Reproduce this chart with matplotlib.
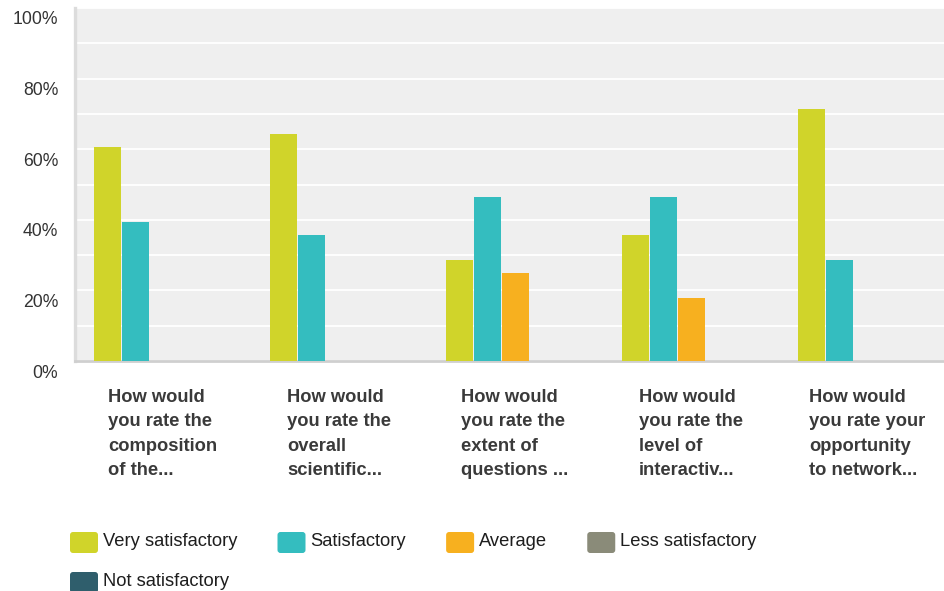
#
# plot.py
# -------
# Grouped bar chart of the session rating survey.
#

import numpy as np
import matplotlib
matplotlib.use("Agg")
import matplotlib.pyplot as plt
import matplotlib.transforms as mtransforms
from matplotlib.patches import FancyBboxPatch

plt.rcParams['font.family'] = ['Liberation Sans', 'DejaVu Sans']

questions = [
    "How would\nyou rate the\ncomposition\nof the...",
    "How would\nyou rate the\noverall\nscientific...",
    "How would\nyou rate the\nextent of\nquestions ...",
    "How would\nyou rate the\nlevel of\ninteractiv...",
    "How would\nyou rate your\nopportunity\nto network...",
]
series = ["Very satisfactory", "Satisfactory", "Average",
          "Less satisfactory", "Not satisfactory"]

very_satisfactory = [60.7, 64.3, 28.6, 35.7, 71.4]
satisfactory = [39.3, 35.7, 46.4, 46.4, 28.6]
average = [0, 0, 25.0, 17.9, 0]
less_satisfactory = [0, 0, 0, 0, 0]
not_satisfactory = [0, 0, 0, 0, 0]

colors = ["#d0d42a", "#34bdbf", "#f7b01f", "#8a8b79", "#2f5e6c"]

W, H = 944, 591


def main():
    values = [very_satisfactory, satisfactory, average,
              less_satisfactory, not_satisfactory]

    fig = plt.figure(figsize=(W / 100, H / 100), dpi=100)
    ax = fig.add_axes([75 / W, (H - 361) / H, 869 / W, 353 / H])
    ax.set_facecolor("#efefef")

    # 5 bars per question, padding on both sides of each group
    x = np.arange(len(questions))
    pitch = 28 / 176
    pad = 18 / 176
    for k, vals in enumerate(values):
        ax.bar(x - 0.5 + pad + (k + 0.5) * pitch, vals, width=pitch * 27 / 28,
               color=colors[k], zorder=3, label=series[k])

    ax.set_xlim(-0.5, -0.5 + 869 / 176)
    ax.set_ylim(0, 100)
    ax.set_yticks(np.arange(0, 101, 20))
    ax.set_yticklabels([f"{v}%" for v in range(0, 101, 20)])
    ax.set_yticks(np.arange(10, 100, 20), minor=True)
    ax.grid(axis='y', which='both', color='white', lw=1.3, zorder=1)
    ax.tick_params(axis='y', which='both', length=0, pad=12,
                   labelsize=12.7, labelcolor='#333333')

    # y labels sit a little below their gridline
    offset = mtransforms.ScaledTranslation(0, -10 / 100, fig.dpi_scale_trans)
    for lbl in ax.get_yticklabels():
        lbl.set_transform(lbl.get_transform() + offset)

    ax.set_xticks(x)
    ax.set_xticklabels(questions, fontweight='bold', fontsize=13.2,
                       color='#3a3a3a', linespacing=1.54)
    for lbl in ax.get_xticklabels():
        lbl.set_multialignment('left')
    ax.tick_params(axis='x', length=0, pad=20.5)

    for side in ['top', 'right']:
        ax.spines[side].set_visible(False)
    ax.spines['left'].set_color('#dcdcdc')
    ax.spines['left'].set_linewidth(2.4)
    ax.spines['bottom'].set_color('#cfcfcf')
    ax.spines['bottom'].set_linewidth(2)

    # legend, laid out by hand in pixels
    fig.canvas.draw()
    renderer = fig.canvas.get_renderer()
    ident = mtransforms.IdentityTransform()
    xpos = 70
    for i, name in enumerate(series):
        row = 0 if i < 4 else 1
        if i == 4:
            xpos = 70
        top = 532 + 40 * row
        box = FancyBboxPatch((xpos, H - top - 21), 28, 21,
                             boxstyle="round,pad=0,rounding_size=3",
                             transform=ident, facecolor=colors[i],
                             edgecolor='none')
        fig.patches.append(box)
        t = fig.text(xpos + 33, H - (top + 14), name, transform=ident,
                     fontsize=13.2, color='#1e1e1e', va='baseline')
        w = t.get_window_extent(renderer).width
        xpos = xpos + 33 + w + 40

    fig.savefig("out.png", dpi=100)


if __name__ == "__main__":
    main()
